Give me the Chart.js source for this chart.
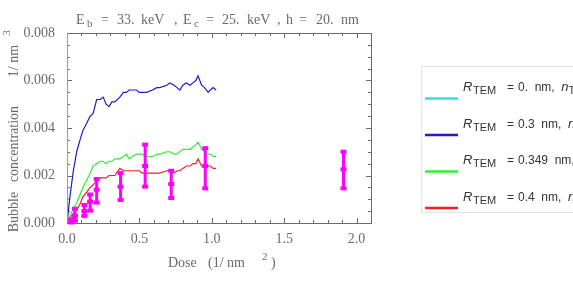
<!DOCTYPE html>
<html>
<head>
<meta charset="utf-8">
<script src="https://cdn.jsdelivr.net/npm/chart.js@4/dist/chart.umd.min.js"></script>
<style>
  html, body { margin: 0; padding: 0; background: #fff; }
  #wrap { width: 573px; height: 282px; }
</style>
</head>
<body>
<div id="wrap"><canvas id="myChart" width="573" height="282"></canvas></div>
<script>
// dose values (1/nm^2) shared by the simulated curves
const dose = [0, 0.02, 0.044, 0.067, 0.09, 0.11, 0.136, 0.16, 0.18, 0.205, 0.23, 0.25, 0.27, 0.29, 0.31,
    0.33, 0.365, 0.39, 0.41, 0.43, 0.45, 0.48, 0.50, 0.52, 0.55, 0.59, 0.62, 0.64, 0.69, 0.71,
    0.74, 0.76, 0.78, 0.80, 0.825, 0.85, 0.87, 0.89, 0.905, 0.93, 0.95, 0.975, 0.99, 1.01, 1.03];

const blue = [0, 0.0011, 0.0022, 0.0030, 0.0035, 0.0039, 0.0042, 0.0045, 0.0046, 0.0052, 0.0052, 0.0053, 0.0050, 0.0049, 0.0051,
    0.0051, 0.0053, 0.0055, 0.0055, 0.0056, 0.0056, 0.0056, 0.0055, 0.0055, 0.0055, 0.0056, 0.0057, 0.0057, 0.0058, 0.0059,
    0.0058, 0.0057, 0.0056, 0.0058, 0.0059, 0.0058, 0.0059, 0.0060, 0.0062, 0.0058, 0.0057, 0.0055, 0.0056, 0.0057, 0.0056];

const green = [0, 0.0003, 0.0006, 0.00084, 0.0012, 0.0015, 0.0018, 0.0021, 0.0024, 0.0025, 0.0026, 0.0026, 0.0025, 0.0026, 0.0026,
    0.0027, 0.0027, 0.0028, 0.0029, 0.0027, 0.0028, 0.0029, 0.0029, 0.0029, 0.0028, 0.0028, 0.0029, 0.0029, 0.0030, 0.0030,
    0.0029, 0.0029, 0.0030, 0.0031, 0.0031, 0.0031, 0.0032, 0.0033, 0.0034, 0.0031, 0.0030, 0.0029, 0.0029, 0.0028, 0.0028];

const red = [0, 0.0002, 0.0004, 0.00055, 0.0008, 0.0011, 0.0013, 0.0015, 0.0016, 0.0018, 0.0019, 0.0019, 0.0019, 0.0020, 0.0020,
    0.0020, 0.0023, 0.0022, 0.0022, 0.0022, 0.0022, 0.0022, 0.0022, 0.0021, 0.0021, 0.0021, 0.0021, 0.0021, 0.0022, 0.0022,
    0.0021, 0.0022, 0.0022, 0.0023, 0.0024, 0.0024, 0.0025, 0.0025, 0.0027, 0.0024, 0.0024, 0.0024, 0.0024, 0.0023, 0.0023];

// cyan curve (R_TEM = 0) shoots straight up at zero dose
const cyanX = [0, 0];
const cyanY = [0, 0.009];

// TEM measurements with error bars
const temDose = [0.03, 0.055, 0.12, 0.16, 0.205, 0.37, 0.54, 0.72, 0.955, 1.91];
const temMid  = [0.00008, 0.0003, 0.0005, 0.00090, 0.0014, 0.00153, 0.0024, 0.00164, 0.0024, 0.00226];
const temLow  = [0.00002, 0.0001, 0.0003, 0.00052, 0.00086, 0.00097, 0.00153, 0.00105, 0.00146, 0.00146];
const temHigh = [0.00015, 0.0006, 0.00076, 0.0012, 0.00185, 0.0021, 0.0033, 0.0022, 0.00315, 0.0030];

const xTicks = [0, 0.5, 1.0, 1.5, 2.0];
const yTicks = [0, 0.002, 0.004, 0.006, 0.008];

const legendNames = ['0.', '0.3', '0.349', '0.4'];
const legendColors = ['#33dede', '#1c1cc8', '#33ee33', '#ee2222'];

const GRAY = '#6a6a6a';
const SERIF = '"Liberation Serif", "DejaVu Serif", serif';
const SANS = '"Liberation Sans", Arial, sans-serif';

function pts(xs, ys) {
    return xs.map((x, i) => ({ x: x, y: ys[i] }));
}

// draws frame, inner ticks, error bars, titles and the legend box
const decor = {
    id: 'decor',
    beforeDatasetsDraw(chart) {
        const ctx = chart.ctx;
        const a = chart.chartArea;
        const xs = chart.scales.x, ys = chart.scales.y;
        ctx.save();
        ctx.strokeStyle = GRAY;
        ctx.lineWidth = 1;
        ctx.strokeRect(a.left + 0.5, a.top + 0.5, a.right - a.left, a.bottom - a.top);
        ctx.beginPath();
        for (let v = 0; v <= 2.1001; v += 0.1) {
            const px = Math.round(xs.getPixelForValue(v)) + 0.5;
            const major = Math.abs(v / 0.5 - Math.round(v / 0.5)) < 1e-6;
            const len = major ? 5 : 3;
            ctx.moveTo(px, a.bottom); ctx.lineTo(px, a.bottom - len);
            ctx.moveTo(px, a.top); ctx.lineTo(px, a.top + len);
        }
        for (let v = 0; v <= 0.0080001; v += 0.0005) {
            const py = Math.round(ys.getPixelForValue(v)) + 0.5;
            const major = Math.abs(v / 0.002 - Math.round(v / 0.002)) < 1e-6;
            const len = major ? 5 : 3;
            ctx.moveTo(a.left, py); ctx.lineTo(a.left + len, py);
            ctx.moveTo(a.right, py); ctx.lineTo(a.right - len, py);
        }
        ctx.stroke();
        ctx.restore();
    },
    afterDatasetsDraw(chart) {
        const ctx = chart.ctx;
        const xs = chart.scales.x, ys = chart.scales.y;
        ctx.save();
        ctx.strokeStyle = '#ff00ff';
        ctx.fillStyle = '#ff00ff';
        ctx.lineWidth = 3;
        temDose.forEach((d, i) => {
            const px = xs.getPixelForValue(d);
            const pl = ys.getPixelForValue(temLow[i]);
            const ph = ys.getPixelForValue(temHigh[i]);
            const pm = ys.getPixelForValue(temMid[i]);
            ctx.beginPath();
            ctx.moveTo(px, pl); ctx.lineTo(px, ph);
            ctx.stroke();
            [pl, pm, ph].forEach(py => ctx.fillRect(px - 3, py - 2, 6, 4));
        });
        ctx.restore();
    },
    afterDraw(chart) {
        const ctx = chart.ctx;
        ctx.save();
        ctx.fillStyle = GRAY;
        ctx.textBaseline = 'alphabetic';

        // title with subscripts
        const big = '14px ' + SERIF, sub = '11px ' + SERIF;
        const parts = [
            ['E', 76, 0, big], ['b', 87, 3, sub], ['=', 101, 0, big], ['33.', 117, 0, big], ['keV', 141, 0, big],
            [',', 174, 0, big], ['E', 183, 0, big], ['c', 194, 3, sub], ['=', 206, 0, big], ['25.', 222, 0, big],
            ['keV', 247, 0, big], [',', 277, 0, big], ['h', 286, 0, big], ['=', 299, 0, big], ['20.', 316, 0, big],
            ['nm', 341, 0, big]
        ];
        parts.forEach(p => { ctx.font = p[3]; ctx.fillText(p[0], p[1], 24 + p[2]); });

        // x axis title
        ctx.font = big;
        ctx.fillText('Dose', 168, 267);
        ctx.fillText('(1/ nm', 208, 267);
        ctx.font = sub;
        ctx.fillText('2', 262, 260);
        ctx.font = big;
        ctx.fillText(')', 271, 267);

        // y axis title, rotated
        ctx.save();
        ctx.translate(18, 0);
        ctx.rotate(-Math.PI / 2);
        ctx.textAlign = 'center';
        ctx.font = big;
        ctx.fillText('Bubble', -212, 0);
        ctx.fillText('concentration', -144, 0);
        ctx.fillText('1/ nm', -61, 0);
        ctx.font = sub;
        ctx.fillText('3', -33, -8);
        ctx.restore();

        // legend box
        ctx.strokeStyle = '#e2e2e2';
        ctx.lineWidth = 1;
        ctx.strokeRect(421.5, 66.5, 200, 146);
        legendNames.forEach((name, i) => {
            const base = 91 + i * 36.5;
            ctx.strokeStyle = legendColors[i];
            ctx.lineWidth = 2.5;
            ctx.beginPath();
            ctx.moveTo(425, base + 7.5); ctx.lineTo(458, base + 7.5);
            ctx.stroke();
            ctx.fillStyle = '#333';
            ctx.font = 'italic 13px ' + SANS;
            ctx.fillText('R', 463, base);
            ctx.font = '11px ' + SANS;
            ctx.fillText('TEM', 473, base + 3);
            ctx.font = '12px ' + SANS;
            ctx.fillText('=', 507, base);
            let x = 518;
            const txt = name + '  nm,  ';
            ctx.fillText(txt, x, base);
            x += ctx.measureText(txt).width;
            ctx.font = 'italic 13px ' + SANS;
            ctx.fillText('n', x, base);
            x += ctx.measureText('n').width;
            ctx.font = '11px ' + SANS;
            ctx.fillText('TEM', x, base + 3);
        });
        ctx.restore();
    }
};

const config = {
    type: 'scatter',
    data: {
        datasets: [
            { data: pts(cyanX, cyanY), borderColor: legendColors[0], borderWidth: 1.5, showLine: true, pointRadius: 0 },
            { data: pts(dose, blue), borderColor: legendColors[1], borderWidth: 1.2, showLine: true, pointRadius: 0 },
            { data: pts(dose, green), borderColor: legendColors[2], borderWidth: 1.2, showLine: true, pointRadius: 0 },
            { data: pts(dose, red), borderColor: legendColors[3], borderWidth: 1.2, showLine: true, pointRadius: 0 }
        ]
    },
    options: {
        responsive: false,
        animation: false,
        layout: { padding: { top: 33, right: 202, left: 0, bottom: 0 } },
        plugins: { legend: { display: false }, tooltip: { enabled: false } },
        scales: {
            x: {
                type: 'linear', min: 0, max: 2.1,
                afterBuildTicks: s => { s.ticks = xTicks.map(v => ({ value: v })); },
                afterFit: s => { s.height = 59; },
                grid: { display: false },
                border: { display: false },
                ticks: { color: GRAY, font: { family: SERIF, size: 14 }, padding: 0, callback: v => v.toFixed(1) }
            },
            y: {
                type: 'linear', min: 0, max: 0.008,
                afterBuildTicks: s => { s.ticks = yTicks.map(v => ({ value: v })); },
                afterFit: s => { s.width = 67; },
                grid: { display: false },
                border: { display: false },
                ticks: { color: GRAY, font: { family: SERIF, size: 14 }, padding: 4, callback: v => v.toFixed(3) }
            }
        }
    },
    plugins: [decor]
};

const myChart = new Chart(document.getElementById('myChart'), config);
</script>
</body>
</html>
